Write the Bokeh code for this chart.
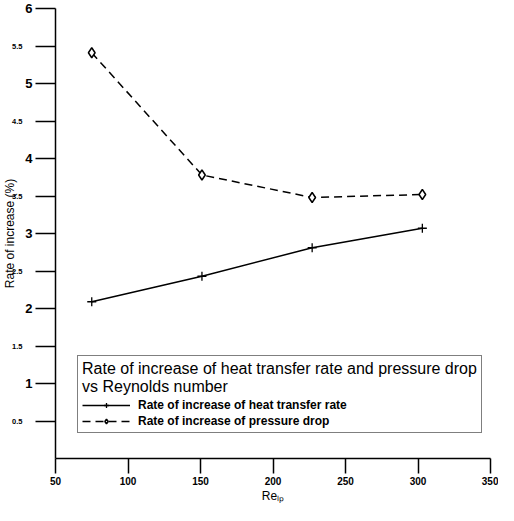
from bokeh.plotting import figure
from bokeh.models import LinearAxis, FixedTicker, Legend, LegendItem, Range1d
from bokeh.embed import file_html
from bokeh.resources import INLINE

# Data
re_lp = [75, 151, 227, 303]
heat_transfer = [2.09, 2.43, 2.81, 3.07]
pressure_drop = [5.41, 3.78, 3.48, 3.52]

x_ticks = [50, 100, 150, 200, 250, 300, 350]
y_int_ticks = [1, 2, 3, 4, 5, 6]
y_half_ticks = [0.5, 1.5, 2.5, 3.5, 4.5, 5.5]

legend_title = "Rate of increase of heat transfer rate and pressure drop\nvs Reynolds number"
label_heat = "Rate of increase of heat transfer rate"
label_pressure = "Rate of increase of pressure drop"

p = figure(width=498, height=505, x_range=Range1d(50, 350), y_range=Range1d(0, 6),
           output_backend="svg", toolbar_location=None,
           x_axis_type=None, y_axis_type=None,
           min_border_left=0, min_border_right=8, min_border_top=8, min_border_bottom=0)
p.outline_line_color = None
p.xgrid.visible = False
p.ygrid.visible = False
p.background_fill_color = "white"

# x axis
xa = LinearAxis(ticker=FixedTicker(ticks=x_ticks, minor_ticks=[]),
                axis_label="Reₗₚ",
                axis_line_color="black", major_tick_line_color="black",
                axis_line_width=1.5, major_tick_line_width=1.5,
                major_tick_out=15, major_tick_in=0,
                major_label_standoff=3,
                major_label_text_color="black",
                major_label_text_font="Liberation Sans",
                major_label_text_font_style="bold",
                major_label_text_font_size="10px",
                axis_label_text_color="black",
                axis_label_text_font="Liberation Sans",
                axis_label_text_font_style="normal",
                axis_label_text_font_size="12px",
                axis_label_standoff=1)
p.add_layout(xa, "below")

# y axis (integers, with long ticks at the halves)
ya = LinearAxis(ticker=FixedTicker(ticks=y_int_ticks, minor_ticks=y_half_ticks),
                axis_line_color="black", major_tick_line_color="black", minor_tick_line_color="black",
                axis_line_width=1.5, major_tick_line_width=1.5, minor_tick_line_width=1.5,
                major_tick_out=20, major_tick_in=0, minor_tick_out=20, minor_tick_in=0,
                major_label_standoff=3,
                major_label_text_color="black",
                major_label_text_font="Liberation Sans",
                major_label_text_font_style="bold",
                major_label_text_font_size="13px")
p.add_layout(ya, "left")

# half-value labels (smaller)
ya2 = LinearAxis(ticker=FixedTicker(ticks=y_half_ticks, minor_ticks=[]),
                 axis_line_color=None, major_tick_line_color=None, minor_tick_line_color=None,
                 major_tick_out=0, major_tick_in=0, major_label_standoff=0,
                 major_label_text_color="black",
                 major_label_text_font="Liberation Sans",
                 major_label_text_font_style="bold",
                 major_label_text_font_size="7.5px",
                 axis_label="Rate of increase (%)",
                 axis_label_text_color="black",
                 axis_label_text_font="Liberation Sans",
                 axis_label_text_font_style="normal",
                 axis_label_text_font_size="12px",
                 axis_label_standoff=-8)
p.add_layout(ya2, "left")

l1 = p.line(re_lp, heat_transfer, line_color="black", line_width=1.5)
m1 = p.scatter(re_lp, heat_transfer, marker="cross", size=9, line_color="black", line_width=1.3)
l2 = p.line(re_lp, pressure_drop, line_color="black", line_width=1.5, line_dash="8 5")
m2 = p.scatter(re_lp, pressure_drop, marker="diamond", size=10, line_color="black",
               fill_color="white", line_width=1.5)

legend = Legend(items=[LegendItem(label=label_heat, renderers=[l1, m1]),
                       LegendItem(label=label_pressure, renderers=[l2, m2])],
                location=(22, 25),
                title=legend_title,
                title_text_color="black",
                title_text_font="Liberation Sans",
                title_text_font_style="normal",
                title_text_font_size="16px",
                title_standoff=2,
                label_text_color="black",
                label_text_font="Liberation Sans",
                label_text_font_style="bold",
                label_text_font_size="12px",
                label_standoff=8,
                glyph_width=48, glyph_height=12, label_height=12,
                spacing=2, padding=4, margin=0,
                border_line_color="black", border_line_width=1.2,
                background_fill_color="white", background_fill_alpha=1)
p.add_layout(legend)

open("out.html", "w").write(file_html(p, INLINE))
